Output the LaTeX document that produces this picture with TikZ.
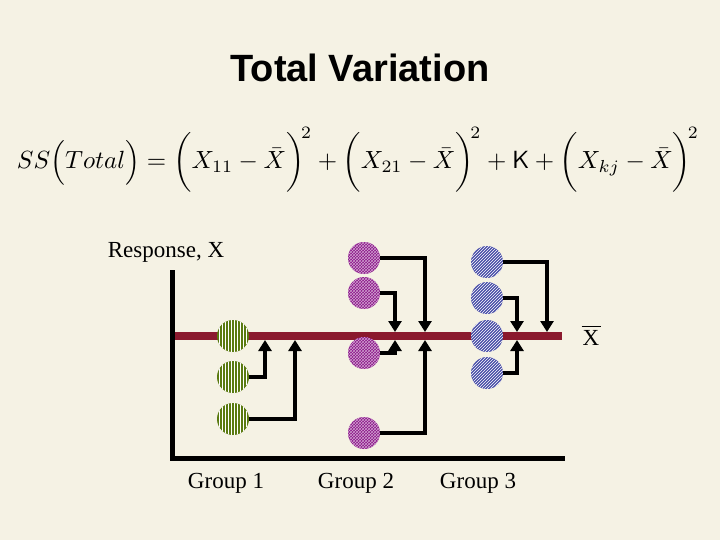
\documentclass[tikz,border=0pt]{standalone}
\usepackage{fontspec}
\setmainfont{Liberation Serif}
\newfontfamily\arialfont{Liberation Sans}
\usetikzlibrary{patterns,arrows.meta}
\definecolor{bg}{HTML}{F5F2E4}
\definecolor{meanred}{HTML}{8B1A2E}
\definecolor{grn}{HTML}{5A7A10}
\definecolor{purp}{HTML}{8A1488}
\definecolor{blu}{HTML}{4A4FA8}
\tikzset{
 dot/.style={circle,minimum size=32pt,inner sep=0pt},
 gdot/.style={dot,fill=grn,postaction={pattern=vertical lines,pattern color=white}},
 pdotx/.style={dot,fill=purp,postaction={pattern=crosshatch,pattern color=white!60!purp}},
 bdot/.style={dot,fill=blu,postaction={pattern=north east lines,pattern color=white}},
 conn/.style={line width=4pt,-{Triangle[width=13pt,length=11pt]}},
 lab/.style={font=\fontsize{23}{27}\selectfont},
}
\begin{document}
\begin{tikzpicture}[x=1pt,y=-1pt]
\fill[bg] (0,0) rectangle (720,540);
\useasboundingbox (0,0) rectangle (720,540);
\node (title) at (360,68) {\arialfont\bfseries\fontsize{38}{44}\selectfont Total Variation};
\node (formula) at (358,160) {\resizebox{682pt}{!}{$SS\Bigl(Total\Bigr)=\biggl(X_{11}-\bar X\biggr)^{\!2}+\biggl(X_{21}-\bar X\biggr)^{\!2}+\mathsf{K}+\biggl(X_{kj}-\bar X\biggr)^{\!2}$}};
\node[lab] (resp) at (166,252) {Response, X};
\node[lab,inner sep=1pt] (xbar) at (591,338) {X};
\draw[line width=1pt] ([yshift=3pt]xbar.north west) -- ([yshift=3pt]xbar.north east);
\node[lab] (g1) at (226,483) {Group 1};
\node[lab] (g2) at (356,483) {Group 2};
\node[lab] (g3) at (478,483) {Group 3};
% axes
\coordinate (top) at (172,270);
\coordinate (org) at (172,458);
\coordinate (right) at (565,458);
\draw[line width=5pt] (top) -- (org) -- (right);
\draw[line width=8pt,meanred] (175,336) coordinate (ml) -- (562,336) coordinate (mr);
% circles
\node[gdot] (g1a) at (233,336) {};
\node[gdot] (g1b) at (233,377) {};
\node[gdot] (g1c) at (233,419) {};
\node[pdotx] (p1) at (364,258) {};
\node[pdotx] (p2) at (364,293) {};
\node[pdotx] (p3) at (364,353) {};
\node[pdotx] (p4) at (364,433) {};
\node[bdot] (b1) at (487,262) {};
\node[bdot] (b2) at (487,298) {};
\node[bdot] (b3) at (487,336) {};
\node[bdot] (b4) at (487,373) {};
% arrows
\draw[conn] (g1b.east) -| (265,340);
\draw[conn] (g1c.east) -| (295,340);
\draw[conn] (p1.east) -| (425,332);
\draw[conn] (p2.east) -| (395,332);
\draw[conn] (p3.east) -| (395,340);
\draw[conn] (p4.east) -| (425,340);
\draw[conn] (b1.east) -| (547,332);
\draw[conn] (b2.east) -| (517,332);
\draw[conn] (b4.east) -| (517,340);
\end{tikzpicture}
\end{document}
